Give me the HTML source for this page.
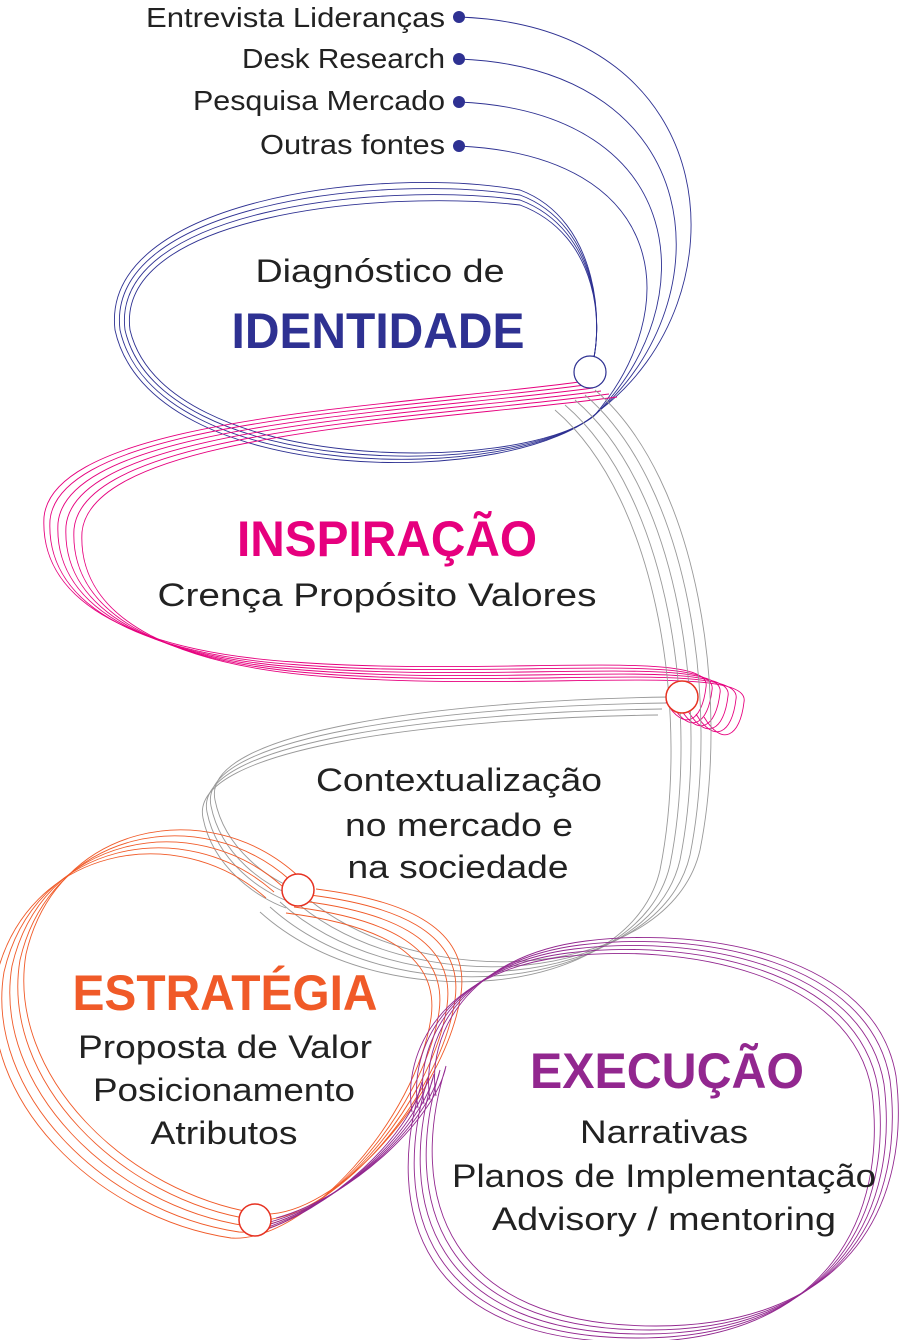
<!DOCTYPE html>
<html><head><meta charset="utf-8"><style>
html,body{margin:0;padding:0;background:#fff;}
svg{display:block}
text{font-family:"Liberation Sans",sans-serif;}
.l{font-size:32px;fill:#222;text-anchor:middle;}
.b{font-size:50px;font-weight:bold;text-anchor:middle;}
.s{font-size:28px;fill:#222;text-anchor:end;}
</style></head><body>
<svg width="902" height="1340" viewBox="0 0 902 1340" xmlns="http://www.w3.org/2000/svg">
<defs>
<path id="pink" d="M585,385 C400,410 60,420 50,520 C45,610 150,655 300,665 C500,680 720,650 712,690 C708,725 690,735 672,705" fill="none"/>
<path id="grayA" d="M595,390 C700,480 730,700 700,850 C670,980 420,1000 300,892" fill="none"/>
<path id="grayB" d="M670,697 C450,700 200,730 215,800 C225,850 270,880 298,890" fill="none"/>
<path id="orng" d="M290,880 C200,800 50,830 20,960 C0,1080 120,1200 255,1220 C330,1225 440,1100 455,1000 C465,930 390,905 310,895" fill="none"/>
<path id="purp" d="M270,1222 C350,1200 430,1120 440,1070 C400,1200 440,1330 650,1330 C850,1330 905,1200 890,1080 C870,960 700,930 580,945 C460,960 420,1040 430,1100" fill="none"/>
</defs>
<g stroke="#2e3192" stroke-width="0.9" fill="none">
<path d="M459,17 C730,27 745,300 600,410 C520,490 150,490 115,330 C100,200 380,165 520,190 C600,220 605,330 590,372"/>
<path d="M459,59 C710,69 725,300 598,412 C520,485 155,485 120,330 C105,205 380,173 520,195 C600,225 605,330 590,372"/>
<path d="M459,102 C690,112 705,305 596,414 C520,480 160,480 125,330 C110,210 380,181 520,200 C600,230 605,330 590,372"/>
<path d="M459,146 C670,156 685,310 594,416 C520,475 165,475 130,330 C115,215 380,189 520,205 C600,235 605,330 590,372"/>
</g>
<g stroke="#e6007e" stroke-width="0.9">
<use href="#pink"/><use href="#pink" transform="translate(8,3)"/><use href="#pink" transform="translate(16,6)"/><use href="#pink" transform="translate(24,9)"/><use href="#pink" transform="translate(32,12)"/><use href="#pink" transform="translate(-6,-3)"/>
</g>
<g stroke="#999" stroke-width="0.9">
<use href="#grayA"/><use href="#grayA" transform="translate(-10,5)"/><use href="#grayA" transform="translate(-20,10)"/><use href="#grayA" transform="translate(-30,15)"/><use href="#grayA" transform="translate(-40,20)"/>
<use href="#grayB"/><use href="#grayB" transform="translate(-4,6)"/><use href="#grayB" transform="translate(-8,12)"/><use href="#grayB" transform="translate(-12,18)"/>
</g>
<g stroke="#f05a28" stroke-width="0.9">
<use href="#orng"/><use href="#orng" transform="translate(-8,6)"/><use href="#orng" transform="translate(-16,12)"/><use href="#orng" transform="translate(-24,18)"/><use href="#orng" transform="translate(6,-6)"/>
</g>
<g stroke="#92278f" stroke-width="0.9">
<use href="#purp"/><use href="#purp" transform="translate(-6,4)"/><use href="#purp" transform="translate(-12,8)"/><use href="#purp" transform="translate(-18,12)"/><use href="#purp" transform="translate(6,-4)"/>
</g>
<g fill="#2e3192"><circle cx="459" cy="17" r="6"/><circle cx="459" cy="59" r="6"/><circle cx="459" cy="102" r="6"/><circle cx="459" cy="146" r="6"/></g>
<circle cx="590" cy="372" r="16" fill="#fff" stroke="#2e3192" stroke-width="1.2"/>
<circle cx="682" cy="697" r="16" fill="#fff" stroke="#e63222" stroke-width="1.5"/>
<circle cx="298" cy="890" r="16" fill="#fff" stroke="#e63222" stroke-width="1.5"/>
<circle cx="255" cy="1220" r="16" fill="#fff" stroke="#e63222" stroke-width="1.5"/>
<text class="s" x="445" y="27" textLength="299" lengthAdjust="spacingAndGlyphs">Entrevista Lideranças</text>
<text class="s" x="445" y="68" textLength="203" lengthAdjust="spacingAndGlyphs">Desk Research</text>
<text class="s" x="445" y="110" textLength="252" lengthAdjust="spacingAndGlyphs">Pesquisa Mercado</text>
<text class="s" x="445" y="154" textLength="185" lengthAdjust="spacingAndGlyphs">Outras fontes</text>
<text class="l" x="380" y="282" textLength="249" lengthAdjust="spacingAndGlyphs">Diagnóstico de</text>
<text class="b" x="378" y="348" fill="#2e3192" textLength="293" lengthAdjust="spacingAndGlyphs">IDENTIDADE</text>
<text class="b" x="387" y="556" fill="#e6007e" textLength="300" lengthAdjust="spacingAndGlyphs">INSPIRAÇÃO</text>
<text class="l" x="377" y="606" textLength="439" lengthAdjust="spacingAndGlyphs">Crença  Propósito  Valores</text>
<text class="l" x="459" y="791" textLength="286" lengthAdjust="spacingAndGlyphs">Contextualização</text>
<text class="l" x="459" y="836" textLength="228" lengthAdjust="spacingAndGlyphs">no mercado e</text>
<text class="l" x="458" y="878" textLength="221" lengthAdjust="spacingAndGlyphs">na sociedade</text>
<text class="b" x="225" y="1010" fill="#f05a28" textLength="305" lengthAdjust="spacingAndGlyphs">ESTRATÉGIA</text>
<text class="l" x="225" y="1058" textLength="294" lengthAdjust="spacingAndGlyphs">Proposta de Valor</text>
<text class="l" x="224" y="1101" textLength="262" lengthAdjust="spacingAndGlyphs">Posicionamento</text>
<text class="l" x="224" y="1144" textLength="147" lengthAdjust="spacingAndGlyphs">Atributos</text>
<text class="b" x="667" y="1088" fill="#92278f" textLength="274" lengthAdjust="spacingAndGlyphs">EXECUÇÃO</text>
<text class="l" x="664" y="1143" textLength="168" lengthAdjust="spacingAndGlyphs">Narrativas</text>
<text class="l" x="664" y="1187" textLength="424" lengthAdjust="spacingAndGlyphs">Planos de Implementação</text>
<text class="l" x="664" y="1230" textLength="344" lengthAdjust="spacingAndGlyphs">Advisory / mentoring</text>
</svg>
</body></html>
